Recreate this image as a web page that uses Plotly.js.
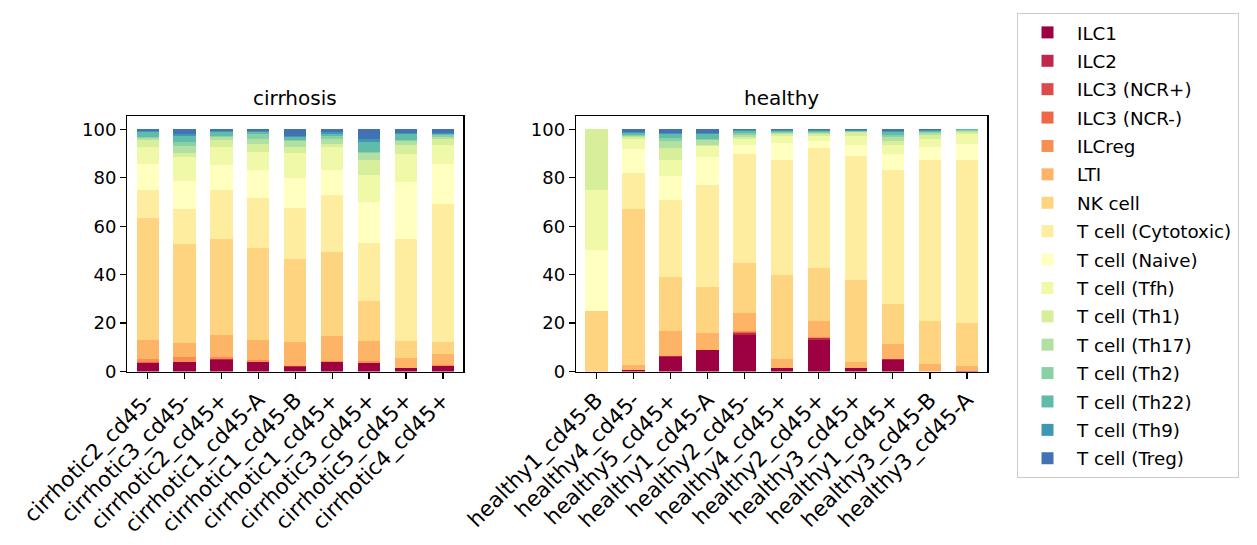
<!DOCTYPE html>
<html>
<head>
<meta charset="utf-8">
<script src="https://cdn.plot.ly/plotly-3.0.1.min.js"></script>
<style>html,body{margin:0;padding:0;background:#fff;}#chart{width:1257px;height:545px;}</style>
</head>
<body>
<div id="chart"></div>
<script>
const cellTypes = ["ILC1","ILC2","ILC3 (NCR+)","ILC3 (NCR-)","ILCreg","LTI","NK cell","T cell (Cytotoxic)","T cell (Naive)","T cell (Tfh)","T cell (Th1)","T cell (Th17)","T cell (Th2)","T cell (Th22)","T cell (Th9)","T cell (Treg)"];
const cellColors = ["#9e0142","#c0274a","#dd4a4c","#f06745","#f98e52","#fdb466","#fed481","#feec9f","#ffffbf","#eff9a7","#d7ef9b","#b2e0a3","#89d0a5","#60bba8","#3f97b7","#4272b3"];

const cirrhosisSamples = ["cirrhotic2_cd45-","cirrhotic3_cd45-","cirrhotic2_cd45+","cirrhotic1_cd45-A","cirrhotic1_cd45-B","cirrhotic1_cd45+","cirrhotic3_cd45+","cirrhotic5_cd45+","cirrhotic4_cd45+"];
const healthySamples = ["healthy1_cd45-B","healthy4_cd45-","healthy5_cd45+","healthy1_cd45-A","healthy2_cd45-","healthy4_cd45+","healthy2_cd45+","healthy3_cd45+","healthy1_cd45+","healthy3_cd45-B","healthy3_cd45-A"];

// percentages per sample, in the order of cellTypes
const cirrhotic2_cd45m  = [3.5,0,0,0.3,1.4,7.8,50.4,11.6,10.8,7.0,2.9,0.8,0.5,1.7,0.8,0.7];
const cirrhotic3_cd45m  = [3.9,0,0,0,2.1,5.8,40.9,14.4,11.6,9.9,1.7,2.9,1.6,2.5,0.8,1.9];
const cirrhotic2_cd45p  = [4.9,0.3,0,0,0.8,9.1,39.7,20.2,10.3,7.5,2.6,1.6,0.3,1.4,0.5,0.8];
const cirrhotic1_cd45mA = [3.9,0,0,0,0.9,8.2,38.0,20.7,11.6,7.4,3.3,2.1,2.0,0.9,0.3,0.7];
const cirrhotic1_cd45mB = [2.0,0.4,0,0,0,9.8,34.3,21.1,12.4,10.3,2.5,2.4,0.5,1.3,0.4,2.6];
const cirrhotic1_cd45p  = [3.9,0,0,0,0.4,10.4,34.7,23.5,10.4,9.5,1.2,2.1,1.2,0.8,0.6,1.3];
const cirrhotic3_cd45p  = [3.5,0,0,0,0.8,8.3,16.5,24.0,16.9,11.2,6.2,2.9,0.3,4.2,1.3,3.9];
const cirrhotic5_cd45p  = [1.4,0,0,0,0,4.2,7.0,42.2,23.5,11.6,3.7,1.6,0.4,2.5,0.3,1.6];
const cirrhotic4_cd45p  = [2.3,0,0,0,0.4,4.5,5.0,57.0,16.6,7.8,2.5,0.8,0.8,0.4,0.4,1.5];

const healthy1_cd45mB = [0,0,0,0,0,0.3,24.7,0,25,25,25,0,0,0,0,0];
const healthy4_cd45m  = [0.6,0,0,0,0,2.1,64.4,14.9,9.9,4.2,0.8,0.4,0.4,0.8,0.4,1.1];
const healthy5_cd45p  = [6.0,0.4,0,0,0,10.3,22.3,31.9,9.9,6.6,4.9,2.9,1.3,1.6,0.2,1.7];
const healthy1_cd45mA = [8.9,0,0,0,0,7.0,19.0,42.2,11.5,4.6,0.3,2.2,0.3,2.1,0.2,1.7];
const healthy2_cd45m  = [15.1,0.8,0,0.4,0.4,7.5,20.6,45.1,3.7,2.5,0.8,0.8,0.8,0.8,0.4,0.4];
const healthy4_cd45p  = [1.4,0,0,0,0,3.8,34.7,47.5,7.0,2.9,0.8,0.4,0.4,0.4,0.4,0.4];
const healthy2_cd45p  = [13.0,0.8,0,0,0.5,6.6,21.9,49.6,2.8,2.1,0.8,0.4,0.4,0.4,0.4,0.4];
const healthy3_cd45p  = [1.4,0,0,0,0,2.5,33.9,51.0,4.9,3.7,1.3,0.3,0.3,0.2,0.2,0.3];
const healthy1_cd45p  = [4.8,0.4,0,0,0,6.2,16.5,55.4,6.6,3.7,1.6,1.7,0.8,1.3,0.4,0.6];
const healthy3_cd45mB = [0,0,0,0,0,3.1,17.8,66.5,5.4,3.3,1.6,0.8,0.4,0.4,0.3,0.4];
const healthy3_cd45mA = [0.4,0,0,0,0,1.9,17.7,67.4,6.6,4.1,0.8,0.4,0.4,0.3,0,0];

const cirrhosisData = [cirrhotic2_cd45m,cirrhotic3_cd45m,cirrhotic2_cd45p,cirrhotic1_cd45mA,cirrhotic1_cd45mB,cirrhotic1_cd45p,cirrhotic3_cd45p,cirrhotic5_cd45p,cirrhotic4_cd45p];
const healthyData = [healthy1_cd45mB,healthy4_cd45m,healthy5_cd45p,healthy1_cd45mA,healthy2_cd45m,healthy4_cd45p,healthy2_cd45p,healthy3_cd45p,healthy1_cd45p,healthy3_cd45mB,healthy3_cd45mA];

const yTicks = [0,20,40,60,80,100];

const FONT = "DejaVu Sans, Liberation Sans, sans-serif";
const traces = [];
cellTypes.forEach((ct, i) => {
  traces.push({
    type: "bar", name: ct, legendgroup: ct, showlegend: true,
    x: cirrhosisSamples, y: cirrhosisData.map(r => r[i]),
    xaxis: "x", yaxis: "y",
    marker: {color: cellColors[i], line: {width: 0}},
    hoverinfo: "x+y+name"
  });
  traces.push({
    type: "bar", name: ct, legendgroup: ct, showlegend: false,
    x: healthySamples, y: healthyData.map(r => r[i]),
    xaxis: "x2", yaxis: "y2",
    marker: {color: cellColors[i], line: {width: 0}},
    hoverinfo: "x+y+name"
  });
});

const H = 545, W = 1257;
const yDom = [1 - 371.5 / H, 1 - 116 / H];
function xAx(dom, cats) {
  return {
    domain: dom, type: "category", categoryorder: "array", categoryarray: cats,
    range: [-0.55, cats.length - 1 + 0.55],
    showline: true, linecolor: "#000", linewidth: 1.3, mirror: true,
    ticks: "outside", ticklen: 6, tickwidth: 1.3, tickcolor: "#000",
    tickangle: -45, tickfont: {family: FONT, size: 21.5, color: "#000"},
    showgrid: false, zeroline: false, fixedrange: true
  };
}
function yAx(anchor) {
  return {
    domain: yDom, anchor: anchor, range: [0, 105.5],
    tickmode: "array", tickvals: yTicks, ticktext: yTicks.map(String),
    showline: true, linecolor: "#000", linewidth: 1.3, mirror: true,
    ticks: "outside", ticklen: 6, tickwidth: 1.3, tickcolor: "#000",
    tickfont: {family: FONT, size: 18, color: "#000"},
    showgrid: false, zeroline: false, fixedrange: true
  };
}

const layout = {
  width: W, height: H,
  margin: {l: 0, r: 0, t: 0, b: 0},
  paper_bgcolor: "#fff", plot_bgcolor: "#fff",
  barmode: "stack", bargap: 0.4,
  font: {family: FONT, color: "#000"},
  showlegend: true,
  xaxis: Object.assign(xAx([127.3 / W, 463.3 / W], cirrhosisSamples), {anchor: "y"}),
  yaxis: yAx("x"),
  xaxis2: Object.assign(xAx([576 / W, 987.3 / W], healthySamples), {anchor: "y2"}),
  yaxis2: yAx("x2"),
  legend: {
    x: 1017 / W, y: 1 - 13 / H, xanchor: "left", yanchor: "top",
    traceorder: "grouped", tracegroupgap: 1.6,
    bgcolor: "rgba(255,255,255,0.8)", bordercolor: "#cccccc", borderwidth: 1,
    font: {family: FONT, size: 18.3, color: "#000"},
    itemwidth: 49
  },
  annotations: [
    {text: "cirrhosis", xref: "paper", yref: "paper", x: (127.3 + 463.3) / 2 / W, y: 1 - 98 / H,
     xanchor: "center", yanchor: "middle", showarrow: false, font: {family: FONT, size: 20, color: "#000"}},
    {text: "healthy", xref: "paper", yref: "paper", x: (576 + 987.3) / 2 / W, y: 1 - 98 / H,
     xanchor: "center", yanchor: "middle", showarrow: false, font: {family: FONT, size: 20, color: "#000"}}
  ]
};

Plotly.newPlot("chart", traces, layout, {displayModeBar: false, staticPlot: true});
</script>
</body>
</html>
